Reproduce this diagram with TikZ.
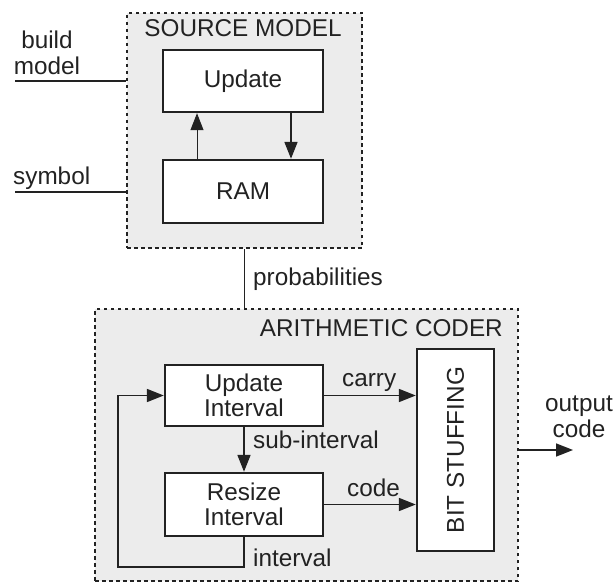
\documentclass[tikz,border=0pt]{standalone}
\usepackage{fontspec}
\setmainfont{Liberation Sans}
\usetikzlibrary{arrows.meta}
\definecolor{ink}{RGB}{34,34,34}
\definecolor{panelfill}{RGB}{236,236,236}
\tikzset{
  txt/.style={font=\fontsize{24.3}{25.5}\selectfont, text=ink},
  panel/.style={draw=ink, fill=panelfill, line width=2.2pt,
    dash pattern=on 3.5pt off 3.5pt, inner sep=0pt},
  block/.style={draw=ink, fill=white, line width=2.4pt, inner sep=0pt,
    txt, align=center},
  lbl/.style={txt, inner sep=0pt},
  wire/.style={draw=ink, line width=1.7pt},
  arr/.style={wire, -{Triangle[length=17pt,width=13pt]}},
}
\begin{document}
\begin{tikzpicture}[x=1pt, y=-1pt]
\useasboundingbox (0,0) rectangle (616,583);

% dashed panels
\node[panel, minimum width=235pt, minimum height=235pt] (src) at (244.5,130.5) {};
\node[panel, minimum width=423pt, minimum height=272pt] (ac) at (306.5,445) {};
\node[lbl, anchor=base] (srct) at (243,37) {SOURCE MODEL};
\node[lbl, anchor=base east] (act) at (503,336) {ARITHMETIC CODER};

% source model blocks
\node[block, minimum width=160pt, minimum height=62pt] (upd) at (243,81) {Update};
\node[block, minimum width=160pt, minimum height=63pt] (ram) at (243,191.5) {RAM};
\draw[arr, line width=1pt] ([xshift=-46pt]ram.north) -- ([xshift=-46pt]upd.south);
\draw[arr] ([xshift=48pt]upd.south) -- ([xshift=48pt]ram.north);

% inputs of the source model
\node[lbl, align=center] (bmt) at (47,53) {build\\model};
\coordinate (bmS) at (15,81);
\draw[wire] (bmS) -- (bmS -| src.west);
\node[lbl, anchor=base west] (symt) at (13,185) {symbol};
\coordinate (syS) at (15,192);
\draw[wire] (syS) -- (syS -| src.west);

% probabilities link
\draw[wire] (src.south) -- (src.south |- ac.north);
\node[lbl, anchor=base west] (prob) at (253,285) {probabilities};

% arithmetic coder blocks
\node[block, minimum width=158pt, minimum height=61pt] (ui) at (244,395.5) {Update\\Interval};
\node[block, minimum width=158pt, minimum height=63pt] (ri) at (244,504.5) {Resize\\Interval};
\node[block, rotate=90, minimum width=202pt, minimum height=77pt] (bs) at (455.5,450) {BIT STUFFING};

\draw[arr] (ui.south) -- (ri.north);
\node[lbl, anchor=base west] (subl) at (253,448) {sub-interval};

\draw[arr] (ui.east) -- (ui.east -| bs.north);
\node[lbl, anchor=base west] (carl) at (342,386) {carry};
\draw[arr] (ri.east) -- (ri.east -| bs.north);
\node[lbl, anchor=base west] (codl) at (347,496.5) {code};

\coordinate (loop) at (118,567);
\draw[arr] (ri.south) |- (loop) |- (ui.west);
\node[lbl, anchor=base west] (intl) at (253,566) {interval};

% output
\coordinate (outend) at (573,450);
\draw[arr] (bs.center -| ac.east) -- (outend);
\node[lbl, align=center] (outl) at (579,417) {output\\code};
\end{tikzpicture}
\end{document}
